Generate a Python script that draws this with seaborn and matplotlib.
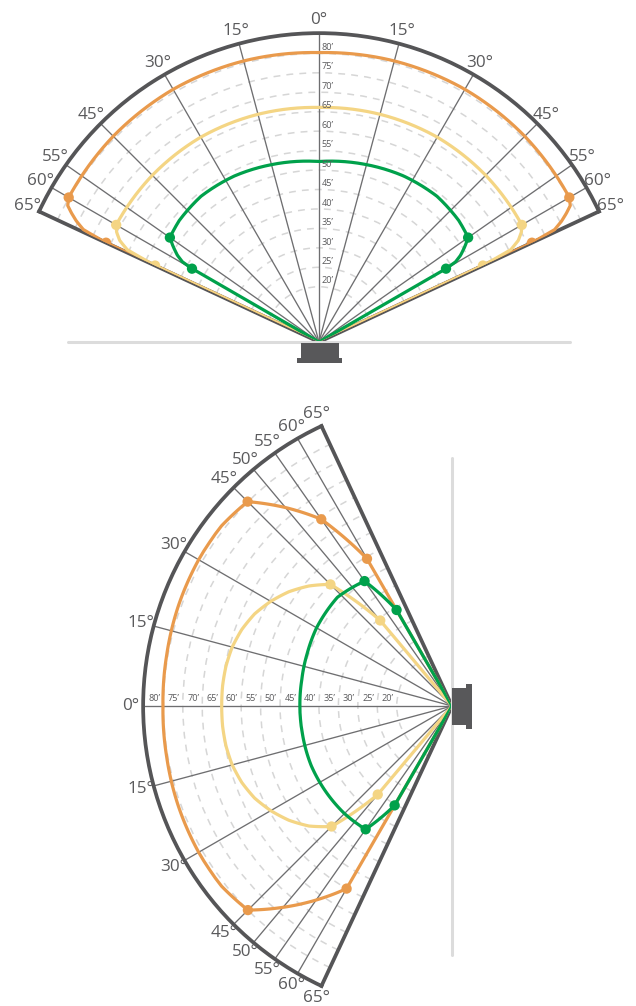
import numpy as np
import matplotlib
matplotlib.use("Agg")
import matplotlib.pyplot as plt
from matplotlib.patches import Rectangle
from matplotlib.lines import Line2D
import seaborn as sns

sns.set_style("white")
plt.rcParams["font.family"] = ["Open Sans", "DejaVu Sans"]

W, H = 636, 1006

# radial scale in feet; the fan centre sits at R_MIN
R_MIN, R_MAX, R_LAB = 5.8, 85.2, 88.5
RINGS = [20, 25, 30, 35, 40, 45, 50, 55, 60, 65, 70, 75, 80]

TOP_SPOKES = [-60, -55, -45, -30, -15, 0, 15, 30, 45, 55, 60]
TOP_LABELS = [-65, -60, -55, -45, -30, -15, 0, 15, 30, 45, 55, 60, 65]
BOT_SPOKES = [-60, -55, -50, -45, -30, -15, 0, 15, 30, 45, 50, 55, 60]
BOT_LABELS = [-65, -60, -55, -50, -45, -30, -15, 0, 15, 30, 45, 50, 55, 60, 65]

ORANGE, YELLOW, GREEN = "#E99A4C", "#F4D584", "#00A14B"
FRAME, SPOKE, RING, TXT = "#555557", "#6e6e70", "#d6d6d6", "#5a5a5c"

# top fan (seen from above)
TOP_O_ANG = [-65, -64.5, -63.5, -62.5, -61.5, -60, -45, -30, -15, 0, 15, 30, 45, 60, 61.5, 62.5, 63.5, 64.5, 65]
TOP_O_FT = [66.2, 72.9, 75.5, 77.5, 79.3, 80.1, 80.6, 80.8, 80.6, 80.2, 80.6, 80.8, 80.6, 80.1, 79.3, 77.5, 75.5, 72.9, 66.2]
TOP_O_DOTS = [-65, -60, 60, 65]

TOP_Y_ANG = [-65, -64.3, -63, -61.5, -60, -45, -30, -15, 0, 15, 30, 45, 60, 61.5, 63, 64.3, 65]
TOP_Y_FT = [52.3, 60.5, 63.3, 65.0, 66.0, 66.4, 66.6, 66.4, 66.1, 66.4, 66.6, 66.4, 66.0, 65.0, 63.3, 60.5, 52.3]
TOP_Y_DOTS = [-65, -60, 60, 65]

TOP_G_ANG = [-60, -59.6, -58.5, -56.8, -55, -49, -39, -27, -15, 0, 15, 27, 39, 49, 55, 56.8, 58.5, 59.6, 60]
TOP_G_FT = [43.5, 46.5, 48.5, 50.6, 52.6, 53.4, 54.0, 53.7, 53.0, 52.2, 53.0, 53.7, 54.0, 53.4, 52.6, 50.6, 48.5, 46.5, 43.5]
TOP_G_DOTS = [-60, -55, 55, 60]

# bottom fan (seen from the side), positive angles point up
BOT_O_ANG = [-60, -52, -45, -38, -30, -20, -10, 0, 10, 20, 30, 38, 45, 50, 55, 60]
BOT_O_FT = [60.0, 70.7, 80.0, 81.0, 81.0, 80.7, 80.3, 80.1, 80.3, 80.7, 81.0, 81.0, 80.1, 72.4, 64.4, 49.5]
BOT_O_DOTS = [-60, -45, 45, 55, 60]

BOT_Y_ANG = [-50, -45, -40, -35, -30, -25, -20, -15, -10, -5, 0, 5, 10, 15, 20, 25, 30, 35, 40, 45, 50]
BOT_Y_FT = [35.5, 49.6, 53.8, 57.0, 59.6, 61.8, 63.3, 64.3, 64.8, 65.0, 65.0, 65.0, 64.8, 64.3, 63.3, 61.8, 59.6, 57.0, 53.8, 50.0, 34.5]
BOT_Y_DOTS = [-50, -45, 45, 50]

BOT_G_ANG = [-60, -55, -45, -35, -23, -10, 0, 10, 20, 30, 43.5, 55, 60]
BOT_G_FT = [35.3, 44.5, 44.9, 45.0, 45.1, 44.9, 44.9, 45.0, 45.4, 46.0, 46.4, 45.0, 34.3]
BOT_G_DOTS = [-60, -55, 55, 60]

PX_PER_FT = 3.89


def frac(x, y):
    return x / W, 1 - y / H


def setup(ax, zero, spokes):
    ax.set_theta_zero_location(zero)
    ax.set_theta_direction(-1)
    ax.set_thetalim(np.deg2rad(-65), np.deg2rad(65))
    ax.set_rlim(R_MIN, R_MAX)
    ax.set_xticks(np.deg2rad(spokes))
    ax.set_yticks(RINGS)
    ax.set_xticklabels([])
    ax.set_yticklabels([])
    ax.tick_params(length=0)
    ax.xaxis.grid(False)
    ax.yaxis.grid(True, color=RING, linewidth=1.1, linestyle=(0, (4.5, 4)))
    for s in ["polar", "start", "end"]:
        ax.spines[s].set_color(FRAME)
        ax.spines[s].set_linewidth(2.7)
    ax.spines["inner"].set_visible(False)
    for a in spokes:
        t = np.deg2rad(a)
        ax.plot([t, t], [R_MIN, R_MAX], color=SPOKE, lw=0.95, zorder=1.5)


def curve(ax, ang, ft, dots, color):
    th = np.deg2rad([ang[0]] + ang + [ang[-1]])
    rr = [R_MIN] + ft + [R_MIN]
    sns.lineplot(x=th, y=rr, sort=False, estimator=None, color=color,
                 linewidth=2.3, ax=ax, zorder=3)
    # follow arcs in (theta, r) between readings instead of straight chords
    ax.lines[-1].get_path()._interpolation_steps = 60
    sel = [ang.index(d) for d in dots]
    sns.scatterplot(x=np.deg2rad([ang[i] for i in sel]), y=[ft[i] for i in sel],
                    color=color, s=55, edgecolor="none", ax=ax, zorder=4)


def fit(ax, cx, cy):
    # place the fan so its centre lands on (cx, cy) px with the right radius
    fig.canvas.draw()
    o = ax.transData.transform((0, R_MIN))
    e = ax.transData.transform((0, R_MAX))
    k = (R_MAX - R_MIN) * PX_PER_FT / np.hypot(*(e - o))
    b = ax.get_position()
    ox, oy = o[0] / W, o[1] / H
    tx, ty = frac(cx, cy)
    ax.set_position([tx + (b.x0 - ox) * k, ty + (b.y0 - oy) * k, b.width * k, b.height * k])


fig = plt.figure(figsize=(W / 100, H / 100), dpi=100)

side = 565
ax1 = fig.add_axes([36 / W, 1 - 469 / H, side / W, side / H], projection="polar")
ax2 = fig.add_axes([17 / W, 1 - 986 / H, side / W, side / H], projection="polar")

setup(ax1, "N", TOP_SPOKES)
setup(ax2, "W", BOT_SPOKES)

curve(ax1, TOP_O_ANG, TOP_O_FT, TOP_O_DOTS, ORANGE)
curve(ax1, TOP_Y_ANG, TOP_Y_FT, TOP_Y_DOTS, YELLOW)
curve(ax1, TOP_G_ANG, TOP_G_FT, TOP_G_DOTS, GREEN)
curve(ax2, BOT_O_ANG, BOT_O_FT, BOT_O_DOTS, ORANGE)
curve(ax2, BOT_Y_ANG, BOT_Y_FT, BOT_Y_DOTS, YELLOW)
curve(ax2, BOT_G_ANG, BOT_G_FT, BOT_G_DOTS, GREEN)

for ax, labels in [(ax1, TOP_LABELS), (ax2, BOT_LABELS)]:
    ax.set_rlim(R_MIN, R_MAX)
    ax.set_xlabel("")
    ax.set_ylabel("")
    for a in labels:
        ax.text(np.deg2rad(a), R_LAB, f"{abs(a)}°", ha="center", va="center",
                fontsize=12.3, color=TXT, clip_on=False)

for v in RINGS:
    ax1.annotate(f"{v}’", xy=(0, v), xytext=(2, 4.2), textcoords="offset points",
                 ha="left", va="center", fontsize=6.6, color=TXT)
    ax2.annotate(f"{v}’", xy=(0, v), xytext=(-6.6, 5.6), textcoords="offset points",
                 ha="center", va="center", fontsize=6.6, color=TXT)

fit(ax1, 319, 342)
fit(ax2, 452, 706)
fit(ax1, 319, 342)
fit(ax2, 452, 706)

# mounting surfaces and sensor housings
x0, y0 = frac(68, 342)
x1, _ = frac(570, 342)
fig.add_artist(Line2D([x0, x1], [y0, y0], color="#dcdcdc", lw=2.2, zorder=0.2))
xa, ya = frac(452, 458)
_, yb = frac(452, 955)
fig.add_artist(Line2D([xa, xa], [ya, yb], color="#dcdcdc", lw=2.2, zorder=0.2))

for (x, y, w, h) in [(300.7, 342.7, 38.6, 15.6), (296.7, 358.3, 45.0, 4.4),
                     (451.7, 688.3, 14.3, 36.7), (466.0, 684.0, 6.3, 45.0)]:
    fx, fy = frac(x, y + h)
    fig.add_artist(Rectangle((fx, fy), w / W, h / H, transform=fig.transFigure,
                             facecolor="#58585a", edgecolor="none", zorder=5))

fig.savefig("out.png", dpi=100, facecolor="white")
